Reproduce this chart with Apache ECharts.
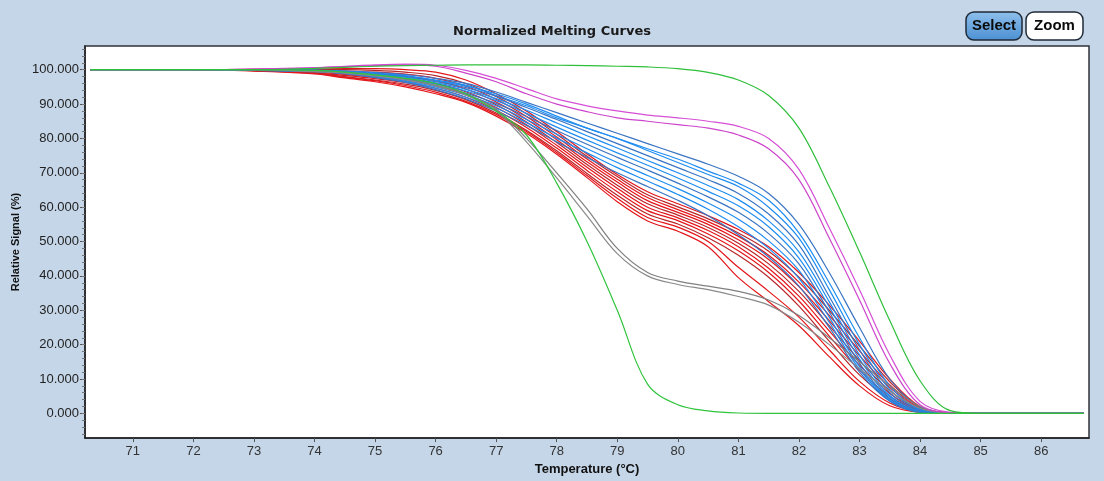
<!DOCTYPE html>
<html>
<head>
<meta charset="utf-8">
<script src="https://cdn.jsdelivr.net/npm/echarts@6/dist/echarts.min.js"></script>
<style>
  html, body { margin: 0; padding: 0; background: #c5d6e8; }
  #main { width: 1104px; height: 481px; }
</style>
</head>
<body>
<div id="main"></div>
<script>
// temperature grid shared by all curves (°C)
var temps = [70.3, 72, 73, 74, 74.5, 75, 75.5, 76, 76.5, 77, 77.5, 78, 78.5, 79, 79.5, 80, 80.5, 81, 81.5, 82, 82.5, 83, 83.5, 84, 84.5, 85, 86.7];

var xTicks = [71, 72, 73, 74, 75, 76, 77, 78, 79, 80, 81, 82, 83, 84, 85, 86];
var yTicks = [0, 10, 20, 30, 40, 50, 60, 70, 80, 90, 100];

// relative signal (%)
var greenEarly = [100,100,100,99.8,99.3,98.5,97.5,96,93,88,81,67,50,30,8.5,2.5,0.7,0.1,0,0,0,0,0,0,0,0,0];
var greenLate  = [100,100,100,100.4,100.7,101,101.2,101.3,101.4,101.4,101.4,101.3,101.2,101,100.8,100.3,99.2,97,92.5,83,66,47,27,9.5,0.8,0,0];

var magenta1 = [100,100,100.2,100.6,101,101.4,101.6,101.3,99.8,97.5,94.5,91.5,89.5,88,86.8,86,85,83.5,80,71,54,36,17,3.5,0.3,0,0];
var magenta2 = [100,100,100.2,100.5,100.9,101.2,101.4,101,99,96.5,93,90,87.8,86,85,84,83,81,77,68,51,33,14.5,2.5,0.2,0,0];

var gray1 = [100,100,100,99.5,99.2,98.5,97.3,95.5,93,88.5,80,70,59.5,48,41,38.5,37,35.5,33,28.5,22,15,8,2,0.1,0,0];
var gray2 = [100,100,100,99.4,99,98.2,97,95.2,92.6,88,79,68.5,57.5,46.5,40,37.5,36,34,31.5,26.5,20,13,6.5,1.5,0.1,0,0];

var blue1  = [100,100,100,99.9,99.6,99.2,98.6,97.5,96,93.5,90.5,87.5,84.5,81.5,78.5,75.5,72.5,69,64,55,41,25,10,1.8,0.1,0,0];
var blue2  = [100,100,100,99.8,99.5,99,98.3,97,95.5,92.5,89.5,86,83,80,77,74,70.5,67,62,52.5,38,22,8,1.2,0,0,0];
var blue3  = [100,100,100,99.8,99.5,99,98.2,96.8,95.2,93,90,86.5,83,80,76.5,73,69.5,66,60,51,36,20,7,1,0,0,0];
var blue4  = [100,100,100,99.7,99.4,98.8,98,96.5,94.8,92.3,89,85.5,82,78.5,75,71.5,68,64,58,49,34,18.5,6,0.8,0,0,0];
var blue5  = [100,100,100,99.7,99.3,98.7,97.8,96.2,94.3,91.6,88.2,84.5,80.8,77.2,73.6,70,66.3,62.2,56,47,32.5,17,5.2,0.6,0,0,0];
var blue6  = [100,100,99.9,99.6,99.2,98.5,97.5,95.8,93.8,91,87.3,83.3,79.5,75.8,72.2,68.5,64.6,60.4,54.3,45.2,31,15.8,4.8,0.5,0,0,0];
var blue7  = [100,100,99.9,99.6,99.1,98.3,97.2,95.4,93.2,90.2,86.4,82.3,78.3,74.5,70.8,67,63,58.5,52.3,43.5,29.5,14.6,4.3,0.5,0,0,0];
var blue8  = [100,100,99.9,99.5,99,98.1,96.9,95,92.6,89.5,85.5,81.2,77,73,69.2,65.4,61.2,56.5,50.2,41.6,28,13.6,4,0.4,0,0,0];
var blue9  = [100,100,99.9,99.5,98.9,97.9,96.6,94.6,92,88.8,84.6,80.1,75.8,71.5,67.6,63.7,59.4,54.3,48,39.3,26.5,12.8,3.7,0.4,0,0,0];
var blue10 = [100,100,99.8,99.4,98.8,97.7,96.3,94.2,91.5,88,83.8,79,74.5,70,66,62,57.5,52,45.5,37,25,12,3.5,0.3,0,0,0];

var red1  = [100,100,100.1,100.2,100.3,100.3,100,99.3,97,93,88,82,75.5,69.5,64.5,61,57.5,53.5,48.5,41,31.5,21,10,2,0.2,0,0];
var red2  = [100,100,100,100,100,99.8,99.3,98.3,96,92.2,87.2,81.2,74.8,68.9,63.6,60.1,56.6,52.5,47.2,39.6,30,19.6,9.2,1.8,0.1,0,0];
var red3  = [100,100,100,99.8,99.6,99.3,98.7,97.5,95.2,91.4,86.4,80.4,74,68.1,62.8,59.3,55.8,51.5,46,38.2,28.5,18.2,8.3,1.6,0.1,0,0];
var red4  = [100,100,99.9,99.6,99.2,98.7,98,96.8,94.4,90.6,85.6,79.6,73.2,67.3,61.9,58.5,55,50.5,44.8,36.9,27,16.8,7.5,1.4,0.1,0,0];
var red5  = [100,100,99.9,99.4,98.9,98.2,97.4,96,93.6,89.8,84.8,78.8,72.4,66.4,61,57.7,54.1,49.5,43.5,35.5,25.5,15.4,6.6,1.2,0.1,0,0];
var red6  = [100,100,99.8,99.3,98.6,97.8,96.8,95.3,92.8,89,84,78,71.6,65.5,60,56.9,53.2,48.5,42.2,34.1,24,14,5.8,1,0,0,0];
var red7  = [100,100,99.8,99.1,98.3,97.4,96.3,94.6,92,88.2,83.2,77.2,70.7,64.5,59,56.1,52.2,47.3,41,32.7,22.5,12.6,5,0.8,0,0,0];
var red8  = [100,100,99.7,99,98,97,95.8,94,91.3,87.4,82.4,76.4,69.8,63.5,58,55.1,51.1,46,39.6,31.2,21,11.2,4.2,0.6,0,0,0];
var red9  = [100,100,99.7,98.9,97.8,96.8,95.4,93.5,90.8,87,82,75.9,69.2,62.6,57,54.2,50,42.5,35.5,28,18.5,9.3,3,0.4,0,0,0];
var red10 = [100,100,99.6,98.8,97.6,96.5,95,93,90.5,86.5,81.5,75.4,68.6,61.6,56,53,48.5,39.5,32.5,25.5,16.5,8,2.2,0.3,0,0,0];

var reds = [red1, red2, red3, red4, red5, red6, red7, red8, red9, red10];
var blues = [blue1, blue2, blue3, blue4, blue5, blue6, blue7, blue8, blue9, blue10];

function curve(vals, color) {
    return {
        type: 'line',
        data: temps.map(function (t, i) { return [t, vals[i]]; }),
        symbol: 'none',
        smooth: 0.35,
        silent: true,
        lineStyle: { color: color, width: 1.2 }
    };
}

var series = [];
reds.forEach(function (r, i) { series.push(curve(r, i % 3 === 1 ? '#b8262a' : '#e3161b')); });
blues.forEach(function (b, i) { series.push(curve(b, i % 3 === 0 ? '#3a74c2' : '#1e8cf0')); });
series.push(curve(gray1, '#808080'));
series.push(curve(gray2, '#8a8a8a'));
series.push(curve(magenta1, '#d64fd6'));
series.push(curve(magenta2, '#cc44cc'));
series.push(curve(greenEarly, '#2fc43c'));
series.push(curve(greenLate, '#2fbf3a'));

var minorY = [];
for (var v = -6; v <= 106; v += 2) minorY.push(v);

var myChart = echarts.init(document.getElementById('main'));

var option = {
    backgroundColor: '#c5d6e8',
    animation: false,
    title: {
        text: 'Normalized Melting Curves',
        left: 'center',
        top: 20,
        textStyle: { fontFamily: 'DejaVu Sans', fontWeight: 'bold', fontSize: 13, color: '#1a1a1a' }
    },
    grid: {
        left: 85, right: 15, top: 46, bottom: 39,
        show: true,
        backgroundColor: '#ffffff',
        borderColor: '#2e3238',
        borderWidth: 1.5
    },
    xAxis: {
        type: 'value',
        min: 70.21,
        max: 86.79,
        name: 'Temperature (°C)',
        nameLocation: 'middle',
        nameGap: 22,
        nameTextStyle: { fontFamily: 'Liberation Sans', fontWeight: 'bold', fontSize: 13, color: '#111' },
        axisLine: { show: true, onZero: false, lineStyle: { color: '#222', width: 1.5 } },
        axisTick: { show: true, customValues: xTicks, length: 4, lineStyle: { color: '#555' } },
        axisLabel: {
            customValues: xTicks,
            margin: 7,
            fontFamily: 'Liberation Sans',
            fontSize: 13,
            color: '#333',
            formatter: function (v) { return String(Math.round(v)); }
        },
        splitLine: { show: false }
    },
    yAxis: [{
        type: 'value',
        position: 'left',
        min: -7.2,
        max: 106.9,
        name: 'Relative Signal (%)',
        nameLocation: 'middle',
        nameGap: 63,
        nameTextStyle: { fontFamily: 'Liberation Sans', fontWeight: 'bold', fontSize: 11, color: '#111' },
        axisLine: { show: true, onZero: false, lineStyle: { color: '#222', width: 1.5 } },
        axisTick: { show: true, customValues: yTicks, length: 5, lineStyle: { color: '#555' } },
        axisLabel: {
            customValues: yTicks,
            margin: 6,
            fontFamily: 'Liberation Sans',
            fontSize: 13,
            color: '#222',
            formatter: function (v) { return v.toFixed(3); }
        },
        splitLine: { show: false }
    }, {
        type: 'value',
        position: 'left',
        min: -7.2,
        max: 106.9,
        axisLine: { show: false, onZero: false },
        axisTick: { show: true, customValues: minorY, length: 3, lineStyle: { color: '#777' } },
        axisLabel: { show: false },
        splitLine: { show: false }
    }],
    graphic: [{
        type: 'group',
        children: [{
            type: 'rect',
            shape: { x: 966, y: 12, width: 56, height: 28, r: 8 },
            style: {
                fill: new echarts.graphic.LinearGradient(0, 0, 0, 1, [
                    { offset: 0, color: '#8fc0ec' },
                    { offset: 1, color: '#4b8fd2' }
                ]),
                stroke: '#1f2a36',
                lineWidth: 1.5
            }
        }, {
            type: 'text',
            x: 994, y: 26,
            style: {
                text: 'Select', fill: '#0b0b0b', align: 'center', verticalAlign: 'middle',
                font: 'bold 15px "Liberation Sans", sans-serif'
            }
        }, {
            type: 'rect',
            shape: { x: 1026, y: 12, width: 57, height: 28, r: 8 },
            style: { fill: '#ffffff', stroke: '#1f2a36', lineWidth: 1.5 }
        }, {
            type: 'text',
            x: 1054.5, y: 26,
            style: {
                text: 'Zoom', fill: '#0b0b0b', align: 'center', verticalAlign: 'middle',
                font: 'bold 15px "Liberation Sans", sans-serif'
            }
        }]
    }],
    series: series
};

myChart.setOption(option);
</script>
</body>
</html>
